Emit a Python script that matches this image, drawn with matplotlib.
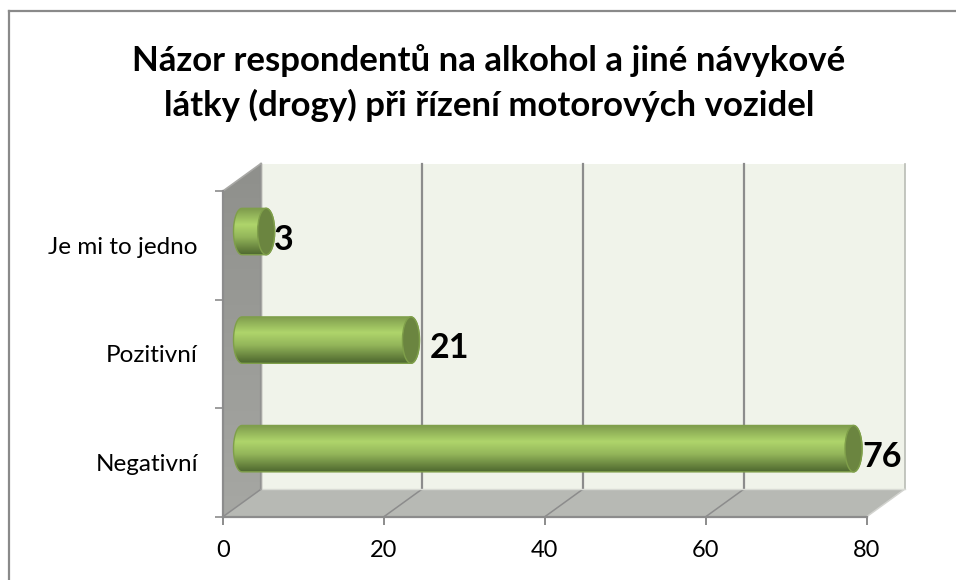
import matplotlib
matplotlib.use("Agg")
import matplotlib.pyplot as plt
from matplotlib.patches import Ellipse, PathPatch, Polygon
from matplotlib.path import Path
from matplotlib.colors import LinearSegmentedColormap
import numpy as np

plt.rcParams['font.family'] = ['Lato', 'DejaVu Sans']

title = "Názor respondentů na alkohol a jiné návykové\nlátky (drogy) při řízení motorových vozidel"
categories = ["Negativní", "Pozitivní", "Je mi to jedno"]
values = [76, 21, 3]
xticks = [0, 20, 40, 60, 80]

W, H = 956, 580
# front plane of the fake 3d box, in pixels
x0, x1, y_top, y_bot = 223.0, 866.7, 191.0, 516.7

fig = plt.figure(figsize=(W / 100, H / 100), dpi=100, facecolor='white')
ax = fig.add_axes([x0 / W, 1 - y_bot / H, (x1 - x0) / W, (y_bot - y_top) / H])
ax.set_xlim(0, 80)
ax.set_ylim(-0.5, 2.5)
for sp in ax.spines.values():
    sp.set_visible(False)
ax.patch.set_visible(False)

px_x = 80 / (x1 - x0)
px_y = 3 / (y_bot - y_top)
dx = 38 * px_x
dy = 27.5 * px_y
ymin, ymax = -0.5, 2.5
GRID = '#8c8c8c'

# walls
ax.add_patch(Polygon([(dx, ymin + dy), (80 + dx, ymin + dy), (80 + dx, ymax + dy), (dx, ymax + dy)],
                     closed=True, fc='#f0f3ea', ec='none', clip_on=False, zorder=1))
ax.add_patch(Polygon([(0, ymin), (80, ymin), (80 + dx, ymin + dy), (dx, ymin + dy)],
                     closed=True, fc='#b7b9b4', ec='none', clip_on=False, zorder=1))
wall = Polygon([(0, ymin), (dx, ymin + dy), (dx, ymax + dy), (0, ymax)], closed=True,
               fc='none', ec='none', clip_on=False)
ax.add_patch(wall)
cm_wall = LinearSegmentedColormap.from_list('wall', ['#8f908c', '#a6a7a3'])
im = ax.imshow(np.linspace(0, 1, 50).reshape(-1, 1), cmap=cm_wall, aspect='auto',
               extent=(0, dx, ymin, ymax + dy), origin='upper', zorder=1)
im.set_clip_path(wall)
im.set_clip_box(fig.bbox)  # the image would otherwise stop at the axes box

# gridlines
for t in xticks:
    c = GRID if t < 80 else '#b9bcb5'
    lw = 1.6 if t < 80 else 1.2
    ax.plot([t + dx, t + dx], [ymin + dy, ymax + dy], color=c, lw=lw, clip_on=False, zorder=2)
    if t < 80:
        ax.plot([t, t + dx], [ymin, ymin + dy], color=GRID, lw=1.1, clip_on=False, zorder=2)
ax.plot([80, 80 + dx], [ymin, ymin + dy], color='#d2d3cf', lw=1.1, clip_on=False, zorder=2)
ax.plot([dx, 80 + dx], [ymin + dy, ymin + dy], color='#d9dbd5', lw=1, clip_on=False, zorder=2)
ax.plot([0, dx], [ymax, ymax + dy], color='#a8a8a5', lw=1.2, clip_on=False, zorder=2)
ax.plot([dx, dx], [ymin + dy, ymax + dy], color='#a8a8a5', lw=1.0, clip_on=False, zorder=2)

# cylinders
cm_bar = LinearSegmentedColormap.from_list(
    'bar', [(0, '#7e9c4d'), (0.06, '#86a552'), (0.35, '#afd56b'), (0.62, '#93b55a'),
            (0.88, '#64803c'), (1, '#4e6830')])
half_h = 23.2 * px_y
half_w = 8.5 * px_x
tt = np.linspace(-np.pi / 2, np.pi / 2, 40)
for i, v in enumerate(values):
    yc = i + dy / 2
    xs, xe = dx / 2, v + dx / 2
    verts = np.vstack([
        np.column_stack([xs - half_w * np.cos(tt), yc + half_h * np.sin(tt)]),
        np.column_stack([xe + half_w * np.cos(tt[::-1]), yc + half_h * np.sin(tt[::-1])]),
    ])
    shape = PathPatch(Path(np.vstack([verts, verts[:1]])), fc='none', ec='#7f9f4a', lw=1.0,
                      clip_on=False, zorder=5)
    ax.add_patch(shape)
    g = ax.imshow(np.linspace(0, 1, 100).reshape(-1, 1), cmap=cm_bar, aspect='auto',
                  extent=(xs - half_w, xe + half_w, yc - half_h, yc + half_h),
                  origin='upper', zorder=4)
    g.set_clip_path(shape)
    ax.add_patch(Ellipse((xe, yc), 2 * half_w, 2 * half_h, fc='#6b8540', ec='#7f9f4a', lw=1.0,
                         clip_on=False, zorder=6))

ax.set_xlim(0, 80)
ax.set_ylim(ymin, ymax)

# data labels, excel placed them by hand so the gaps differ
label_dx = [0.0, 10.0, -1.0]
for i, v in enumerate(values):
    ax.annotate(str(v), (v + dx / 2 + half_w, i + dy / 2), xytext=(label_dx[i] * 0.72, -6),
                textcoords='offset points', ha='left', va='center', fontsize=24.5,
                fontweight='bold', color='black', annotation_clip=False, zorder=7)

# axes
ax.plot([0, 0], [ymin, ymax], color=GRID, lw=1.6, clip_on=False, zorder=3)
ax.plot([0, 80], [ymin, ymin], color=GRID, lw=1.6, clip_on=False, zorder=3)
ax.set_xticks(xticks)
ax.set_yticks([-0.5, 0.5, 1.5, 2.5])
ax.set_yticklabels([])
ax.set_yticks(range(len(categories)), labels=categories, minor=True)
ax.tick_params(axis='x', length=6, width=1.4, color=GRID, labelsize=17, pad=11, labelcolor='black')
ax.tick_params(axis='y', which='major', length=6, width=1.2, color=GRID)
ax.tick_params(axis='y', which='minor', length=0, labelsize=17.5, pad=18, labelcolor='black')

fig.text(489 / W, 1 - 83 / H, title, ha='center', va='center', fontsize=25, fontweight='bold',
         color='black', linespacing=1.42)

# chart frame, only top and left survive in the screenshot
fig.add_artist(plt.Line2D([9 / W, 1], [1 - 10.5 / H, 1 - 10.5 / H], color='#8a8a8a', lw=1.6))
fig.add_artist(plt.Line2D([9 / W, 9 / W], [0, 1 - 10.5 / H], color='#8a8a8a', lw=1.6))

fig.savefig('out.png', dpi=100)
